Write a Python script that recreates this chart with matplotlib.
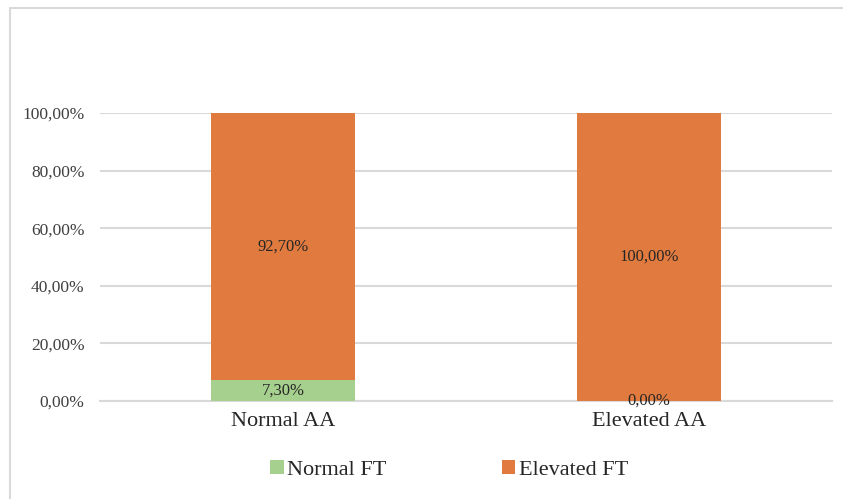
import numpy as np
import matplotlib.pyplot as plt
from matplotlib.patches import Rectangle

categories = ['Normal AA', 'Elevated AA']
normal_ft = [0.073, 0.0]
elevated_ft = [0.927, 1.0]
series_names = ['Normal FT', 'Elevated FT']
yticks = [0, 0.2, 0.4, 0.6, 0.8, 1.0]

green = '#A6D08E'
orange = '#E07A3E'
grid_col = '#D9D9D9'

plt.rcParams['font.family'] = ['Liberation Serif', 'DejaVu Serif']


def pct(v):
    return f'{v * 100:.2f}%'.replace('.', ',')


fig = plt.figure(figsize=(8.43, 4.99), dpi=100)
ax = fig.add_axes([100 / 843, 98 / 499, 732 / 843, 288 / 499])

x = np.arange(len(categories))
width = 0.396
b1 = ax.bar(x, normal_ft, width, color=green, label=series_names[0], zorder=3)
b2 = ax.bar(x, elevated_ft, width, bottom=normal_ft, color=orange,
            label=series_names[1], zorder=3)

# data labels in the middle of each segment
for i in range(len(categories)):
    ax.text(x[i], normal_ft[i] / 2, pct(normal_ft[i]), ha='center',
            va='center', fontsize=12, color='#262626', zorder=4)
    ax.text(x[i], normal_ft[i] + elevated_ft[i] / 2, pct(elevated_ft[i]),
            ha='center', va='center', fontsize=12, color='#262626', zorder=4)

ax.set_xlim(-0.5, 1.5)
ax.set_ylim(0, 1.0)
ax.set_yticks(yticks)
ax.set_yticklabels([pct(v) for v in yticks], fontsize=12.5, color='#404040')
ax.set_xticks(x)
ax.set_xticklabels(categories, fontsize=16, color='#262626')
ax.tick_params(axis='both', length=0)
ax.tick_params(axis='y', pad=11)
ax.tick_params(axis='x', pad=8)
ax.yaxis.grid(True, color=grid_col, linewidth=1.5, zorder=0)
ax.set_axisbelow(True)
for s in ['top', 'right', 'left']:
    ax.spines[s].set_visible(False)
ax.spines['bottom'].set_color(grid_col)
ax.spines['bottom'].set_linewidth(1.5)

leg = fig.legend(handles=[b1, b2], labels=series_names, loc='center',
                 bbox_to_anchor=(449 / 843, 1 - 470 / 499), ncol=2,
                 frameon=False, fontsize=16, handlelength=0.6,
                 handleheight=0.6, handletextpad=0.15, columnspacing=5.2,
                 labelcolor='#262626')

# outer chart border
fig.patches.append(Rectangle((10 / 843, -0.1), 1.0, 1 - 8 / 499 + 0.1,
                             transform=fig.transFigure, fill=False,
                             edgecolor='#D9D9D9', linewidth=1.5))

fig.savefig('out.png', dpi=100)
